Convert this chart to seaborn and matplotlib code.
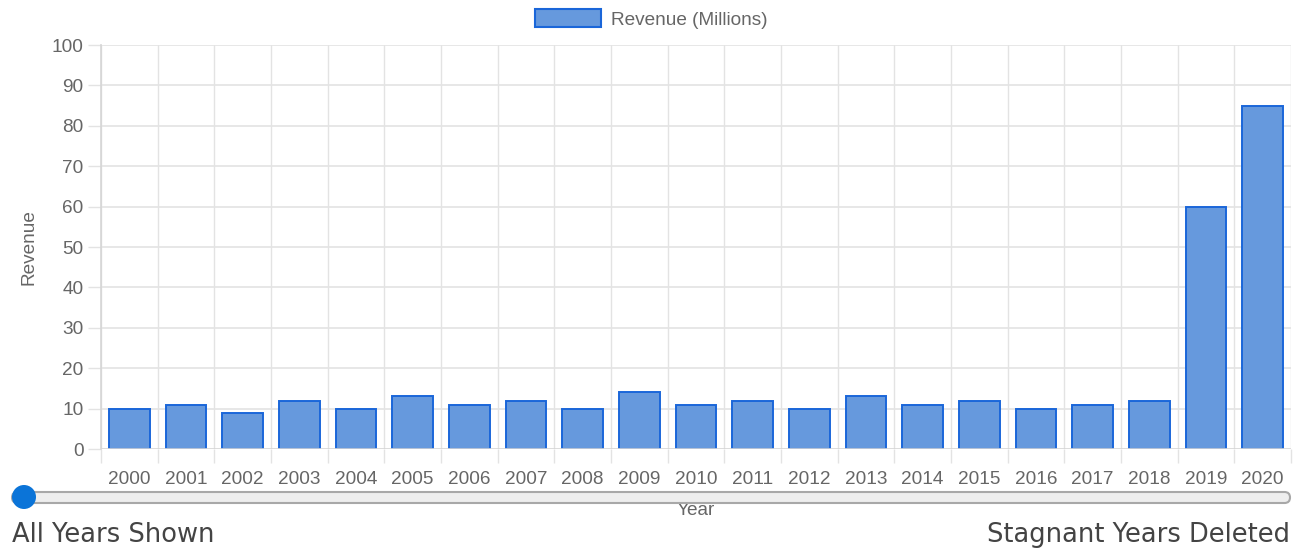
import matplotlib
matplotlib.use("Agg")
import matplotlib.pyplot as plt
import seaborn as sns
import pandas as pd
import numpy as np
from matplotlib.patches import FancyBboxPatch, Circle, Patch

# Revenue per year (millions)
years = [str(y) for y in range(2000, 2021)]
revenue = [10, 11, 9, 12, 10, 13, 11, 12, 10, 14, 11, 12, 10, 13, 11, 12, 10, 11, 12, 60, 85]
y_ticks = list(range(0, 101, 10))
legend_label = "Revenue (Millions)"
slider_left_label = "All Years Shown"
slider_right_label = "Stagnant Years Deleted"

FILL = "#6699dd"
EDGE = "#1a66d9"
GRID = "#e3e3e3"
TEXT = "#666666"
FS = 13.7

sns.set_theme(style="white")
plt.rcParams["font.family"] = ["Liberation Sans", "DejaVu Sans"]

df = pd.DataFrame({"Year": years, "Revenue": revenue})

W, H = 1297, 551
fig = plt.figure(figsize=(W / 100, H / 100), dpi=100)
ax = fig.add_axes([101 / W, 1 - 449 / H, (1291 - 101) / W, (449 - 45) / H])

sns.barplot(data=df, x="Year", y="Revenue", ax=ax, color=FILL, saturation=1,
            width=0.72, edgecolor=EDGE, linewidth=1.4, zorder=3)

n = len(years)
ax.set_xlim(-0.5, n - 0.5)
ax.set_ylim(0, 100)
ax.set_yticks(y_ticks)

# grid: vertical lines at category boundaries, horizontal at y ticks
bounds = np.arange(-0.5, n, 1.0)
ax.set_xticks(bounds, minor=True)
ax.grid(False)
for b in bounds:
    ax.axvline(b, color=GRID, lw=1, zorder=0)
for t in y_ticks:
    ax.axhline(t, color=GRID if t > 0 else "#d5d5d5", lw=1.2, zorder=0 if t > 0 else 4)

for s in ["top", "right", "bottom"]:
    ax.spines[s].set_visible(False)
ax.spines["left"].set_color("#d5d5d5")
ax.spines["left"].set_linewidth(1.2)

ax.tick_params(axis="x", which="major", length=0, pad=16, labelsize=FS, labelcolor=TEXT)
ax.tick_params(axis="x", which="minor", length=10, width=1, color=GRID, bottom=True)
ax.tick_params(axis="y", which="major", length=9.5, width=1, color=GRID, left=True,
               pad=3, labelsize=FS, labelcolor=TEXT)

ax.set_xlabel("Year", fontsize=FS, color=TEXT, labelpad=10)
ax.set_ylabel("Revenue", fontsize=FS, color=TEXT, labelpad=10)

# legend above the plot
handle = Patch(facecolor=FILL, edgecolor=EDGE, linewidth=1.5, label=legend_label)
fig.legend(handles=[handle], loc="center", bbox_to_anchor=(651 / W, 1 - 19 / H),
           frameon=False, fontsize=FS, labelcolor=TEXT,
           handlelength=3.5, handleheight=1.1, handletextpad=0.5)

# slider track and knob
track = FancyBboxPatch((12, H - 503), 1278, 11, boxstyle="round,pad=0,rounding_size=5.5",
                       transform=None, facecolor="#eeeeee", edgecolor="#a8a8a8",
                       linewidth=1.5)
fig.add_artist(track)
knob = Circle((24, H - 497), 12, transform=None, facecolor="#0b74d8", edgecolor="none")
fig.add_artist(knob)

fig.text(12 / W, 1 - 535 / H, slider_left_label, ha="left", va="center",
         fontsize=18.5, color="#444444", family="DejaVu Sans")
fig.text(1290 / W, 1 - 535 / H, slider_right_label, ha="right", va="center",
         fontsize=18.5, color="#444444", family="DejaVu Sans")

fig.savefig("out.png", dpi=100, facecolor="white")
